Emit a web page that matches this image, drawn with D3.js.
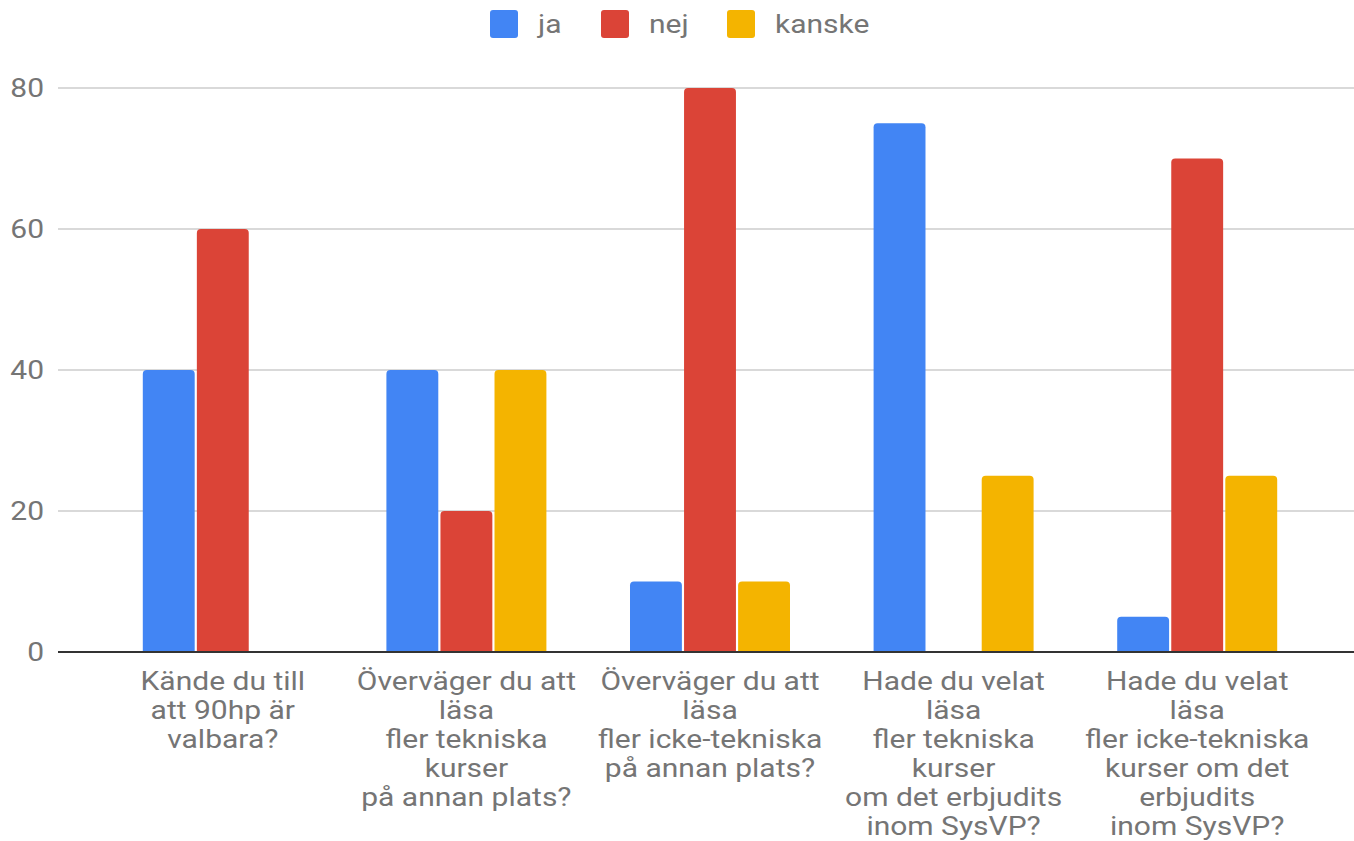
<!DOCTYPE html>
<html>
<head>
<meta charset="utf-8">
<script src="https://cdn.jsdelivr.net/npm/d3@7"></script>
<style>
  html, body { margin: 0; padding: 0; background: #fff; }
  svg { display: block; font-family: Roboto, "Noto Sans", sans-serif; }
</style>
</head>
<body>
<svg id="chart" width="1354" height="841"></svg>
<script>
// chart data
const categories = [
  ["Kände du till", "att 90hp är", "valbara?"],
  ["Överväger du att", "läsa", "fler tekniska", "kurser", "på annan plats?"],
  ["Överväger du att", "läsa", "fler icke-tekniska", "på annan plats?"],
  ["Hade du velat", "läsa", "fler tekniska", "kurser", "om det erbjudits", "inom SysVP?"],
  ["Hade du velat", "läsa", "fler icke-tekniska", "kurser om det", "erbjudits", "inom SysVP?"]
];
const seriesNames = ["ja", "nej", "kanske"];
const jaValues = [40, 40, 10, 75, 5];
const nejValues = [60, 20, 80, 0, 70];
const kanskeValues = [0, 40, 10, 25, 25];
const yTicks = [0, 20, 40, 60, 80];

const colors = ["#4285f4", "#db4437", "#f4b400"];
const series = [jaValues, nejValues, kanskeValues];

// the source picture is stretched a bit sideways, so text gets widened too
const stretch = 1.2;

const svg = d3.select("#chart");
const gridLeft = 58, gridRight = 1354;
const y = d3.scaleLinear().domain([0, 80]).range([652, 88]);

const x0 = d3.scaleBand()
  .domain(d3.range(categories.length))
  .range([101, 1319])
  .paddingInner(0)
  .paddingOuter(0);

const x1 = d3.scaleBand()
  .domain(d3.range(seriesNames.length))
  .range([x0.bandwidth() / 2 - 80, x0.bandwidth() / 2 + 80])
  .paddingInner(0.04);

// gridlines
svg.append("g")
  .selectAll("line")
  .data(yTicks.filter(d => d !== 0))
  .join("line")
  .attr("x1", gridLeft).attr("x2", gridRight)
  .attr("y1", d => y(d)).attr("y2", d => y(d))
  .attr("stroke", "#cccccc").attr("stroke-width", 1.5);

// y tick labels
svg.append("g")
  .selectAll("text")
  .data(yTicks)
  .join("text")
  .attr("transform", d => `translate(44,${y(d)}) scale(${stretch},1)`)
  .attr("dy", "0.36em")
  .attr("text-anchor", "end")
  .attr("fill", "#757575")
  .attr("font-size", 25)
  .text(d => d);

// rounded-top bar path
function barPath(x, yTop, w, yBase, r) {
  const h = yBase - yTop;
  if (h <= 0) return "";
  r = Math.min(r, h, w / 2);
  return `M${x},${yBase}V${yTop + r}Q${x},${yTop} ${x + r},${yTop}H${x + w - r}Q${x + w},${yTop} ${x + w},${yTop + r}V${yBase}Z`;
}

const groups = svg.append("g")
  .selectAll("g")
  .data(categories)
  .join("g")
  .attr("transform", (d, i) => `translate(${x0(i)},0)`);

groups.selectAll("path")
  .data((d, i) => series.map((s, k) => ({ k, v: s[i] })))
  .join("path")
  .attr("fill", d => colors[d.k])
  .attr("d", d => barPath(x1(d.k), y(d.v), x1.bandwidth(), y(0), 4));

// baseline
svg.append("line")
  .attr("x1", gridLeft).attr("x2", gridRight)
  .attr("y1", y(0)).attr("y2", y(0))
  .attr("stroke", "#333333").attr("stroke-width", 2);

// category labels
groups.append("text")
  .attr("transform", `translate(${x0.bandwidth() / 2},0) scale(${stretch},1)`)
  .attr("text-anchor", "middle")
  .attr("fill", "#757575")
  .attr("font-size", 25)
  .selectAll("tspan")
  .data(d => d)
  .join("tspan")
  .attr("x", 0)
  .attr("y", (d, j) => 690 + j * 29)
  .text(d => d);

// legend
const legendItems = [
  { name: seriesNames[0], color: colors[0], x: 490 },
  { name: seriesNames[1], color: colors[1], x: 601 },
  { name: seriesNames[2], color: colors[2], x: 727 }
];
const legend = svg.append("g");
legend.selectAll("rect")
  .data(legendItems)
  .join("rect")
  .attr("x", d => d.x).attr("y", 10)
  .attr("width", 28).attr("height", 28)
  .attr("rx", 3)
  .attr("fill", d => d.color);
legend.selectAll("text")
  .data(legendItems)
  .join("text")
  .attr("transform", d => `translate(${d.x + 48},24) scale(${stretch},1)`)
  .attr("dy", "0.36em")
  .attr("fill", "#757575")
  .attr("font-size", 25)
  .text(d => d.name);
</script>
</body>
</html>
